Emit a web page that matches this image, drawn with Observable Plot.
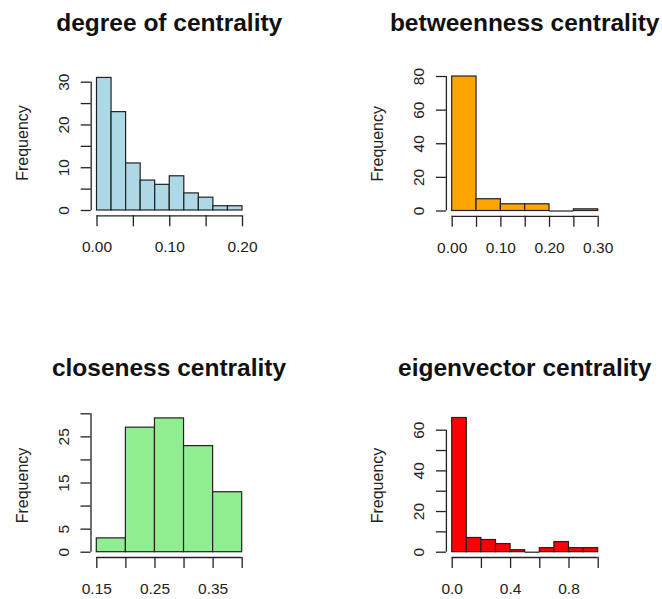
<!DOCTYPE html>
<html>
<head>
<meta charset="utf-8">
<script src="https://cdn.jsdelivr.net/npm/d3@7"></script>
<script src="https://cdn.jsdelivr.net/npm/@observablehq/plot@0.6"></script>
<style>
  body { margin: 0; background: #fff; }
  #page { position: relative; width: 662px; height: 599px; overflow: hidden; background: #fff;
          font-family: "Liberation Sans", Arial, sans-serif; }
  .title { position: absolute; width: 400px; text-align: center; font-weight: bold;
           font-size: 24.5px; line-height: 24.5px; white-space: nowrap; color: #111; }
  .panel { position: absolute; }
</style>
</head>
<body>
<div id="page"></div>
<script>
// ---- data ----
const degreeBreaks = [0, 0.02, 0.04, 0.06, 0.08, 0.10, 0.12, 0.14, 0.16, 0.18, 0.20];
const degreeCounts = [31, 23, 11, 7, 6, 8, 4, 3, 1, 1];
const degreeXTicks = [0, 0.05, 0.10, 0.15, 0.20];
const degreeXLabels = ["0.00", "", "0.10", "", "0.20"];
const degreeYTicks = [0, 5, 10, 15, 20, 25, 30];
const degreeYLabels = ["0", "", "10", "", "20", "", "30"];

const betweenBreaks = [0, 0.05, 0.10, 0.15, 0.20, 0.25, 0.30];
const betweenCounts = [80, 7, 4, 4, 0, 1];
const betweenXTicks = [0, 0.05, 0.10, 0.15, 0.20, 0.25, 0.30];
const betweenXLabels = ["0.00", "", "0.10", "", "0.20", "", "0.30"];
const betweenYTicks = [0, 20, 40, 60, 80];
const betweenYLabels = ["0", "20", "40", "60", "80"];

const closeBreaks = [0.15, 0.20, 0.25, 0.30, 0.35, 0.40];
const closeCounts = [3, 27, 29, 23, 13];
const closeXTicks = [0.15, 0.20, 0.25, 0.30, 0.35, 0.40];
const closeXLabels = ["0.15", "", "0.25", "", "0.35", ""];
const closeYTicks = [0, 5, 10, 15, 20, 25, 30];
const closeYLabels = ["0", "5", "", "15", "", "25", ""];

const eigenBreaks = [0, 0.1, 0.2, 0.3, 0.4, 0.5, 0.6, 0.7, 0.8, 0.9, 1.0];
const eigenCounts = [66, 7, 6, 4, 1, 0, 2, 5, 2, 2];
const eigenXTicks = [0, 0.2, 0.4, 0.6, 0.8, 1.0];
const eigenXLabels = ["0.0", "", "0.4", "", "0.8", ""];
const eigenYTicks = [0, 10, 20, 30, 40, 50, 60];
const eigenYLabels = ["0", "", "20", "", "40", "", "60"];

const titles = ["degree of centrality", "betweenness centrality", "closeness centrality", "eigenvector centrality"];
const colors = ["#ADD8E6", "#FFA500", "#90EE90", "#FF0000"];
const yTitle = "Frequency";

// ---- layout ----
const INK = "#222";
const PAD_X = 5.8, PAD_Y = 5.3;

function panel(o) {
  const bins = o.counts.map((c, i) => ({x1: o.breaks[i], x2: o.breaks[i + 1], count: c}));
  const emptyBins = bins.filter(d => d.count === 0);
  const yTop = o.yTicks[o.yTicks.length - 1];
  const xFirst = o.xTicks[0], xLast = o.xTicks[o.xTicks.length - 1];
  const yLab = o.yTicks.map((v, i) => ({v, t: o.yLabels[i]})).filter(d => d.t !== "");
  const frameBottom = o.yRange[0] + PAD_Y;
  const svg = Plot.plot({
    width: o.w, height: o.h,
    marginLeft: o.xRange[0] - PAD_X,
    marginRight: 10,
    marginTop: o.mt,
    marginBottom: o.h - frameBottom,
    x: {domain: [xFirst, xLast], range: o.xRange, axis: null},
    y: {domain: [0, yTop], range: o.yRange, axis: null},
    style: {fontFamily: "'Liberation Sans', Arial, sans-serif", fontSize: "15.5px", background: "transparent", overflow: "visible", color: INK},
    marks: [
      Plot.rectY(bins, {x1: "x1", x2: "x2", y: "count", fill: o.color, stroke: INK, strokeWidth: 1.2, inset: 0}),
      Plot.ruleY(emptyBins, {x1: "x1", x2: "x2", y: "count", stroke: INK, strokeWidth: 1.2}),
      Plot.ruleY([0], {x1: xFirst, x2: xLast, dy: PAD_Y, stroke: INK, strokeWidth: 1.3}),
      Plot.ruleX([xFirst], {y1: 0, y2: yTop, dx: -PAD_X, stroke: INK, strokeWidth: 1.3}),
      Plot.axisX(o.xTicks, {anchor: "bottom", tickSize: 11, tickPadding: 14.5, label: null,
        tickFormat: d => o.xLabels[o.xTicks.indexOf(d)], stroke: INK, strokeWidth: 1.3, fill: INK}),
      Plot.axisY(o.yTicks, {anchor: "left", tickSize: 10, label: null,
        tickFormat: () => "", stroke: INK, strokeWidth: 1.3}),
      Plot.text(yLab, {y: "v", text: "t", frameAnchor: "left", dx: -22.5, rotate: -90,
        textAnchor: "middle", lineAnchor: "bottom", fill: INK, fontSize: 15.5}),
      Plot.text([yTitle], {text: d => d, frameAnchor: "left", dx: -63, rotate: -90,
        textAnchor: "middle", lineAnchor: "bottom", fill: INK, fontSize: 16})
    ]
  });
  const div = document.createElement("div");
  div.className = "panel";
  div.style.left = o.left + "px";
  div.style.top = o.top + "px";
  div.appendChild(svg);
  document.getElementById("page").appendChild(div);

  const t = document.createElement("div");
  t.className = "title";
  t.textContent = o.title;
  t.style.left = (o.left + (o.xRange[0] + o.xRange[1]) / 2 - 200) + "px";
  t.style.top = o.titleTop + "px";
  document.getElementById("page").appendChild(t);
}

panel({left: 0, top: 50, w: 331, h: 225, mt: 19.7, xRange: [96.5, 242], yRange: [160, 31.7],
  breaks: degreeBreaks, counts: degreeCounts, xTicks: degreeXTicks, xLabels: degreeXLabels,
  yTicks: degreeYTicks, yLabels: degreeYLabels, color: colors[0], title: titles[0], titleTop: 11});
panel({left: 331, top: 50, w: 331, h: 225, mt: 20.8, xRange: [120.7, 266.7], yRange: [160.5, 26],
  breaks: betweenBreaks, counts: betweenCounts, xTicks: betweenXTicks, xLabels: betweenXLabels,
  yTicks: betweenYTicks, yLabels: betweenYLabels, color: colors[1], title: titles[1], titleTop: 11});
panel({left: 0, top: 390, w: 331, h: 209, mt: 23, xRange: [96.3, 241.7], yRange: [161.7, 23.3],
  breaks: closeBreaks, counts: closeCounts, xTicks: closeXTicks, xLabels: closeXLabels,
  yTicks: closeYTicks, yLabels: closeYLabels, color: colors[2], title: titles[2], titleTop: 356});
panel({left: 331, top: 390, w: 331, h: 209, mt: 23, xRange: [120.7, 266.7], yRange: [161.7, 39.7],
  breaks: eigenBreaks, counts: eigenCounts, xTicks: eigenXTicks, xLabels: eigenXLabels,
  yTicks: eigenYTicks, yLabels: eigenYLabels, color: colors[3], title: titles[3], titleTop: 356});
</script>
</body>
</html>
